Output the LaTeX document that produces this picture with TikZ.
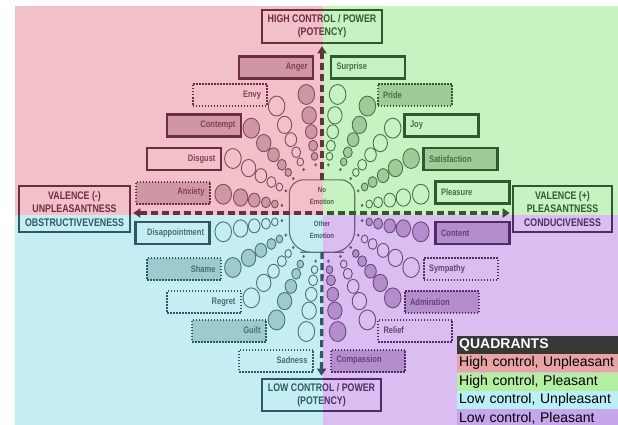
\documentclass[tikz,border=0pt]{standalone}
\usepackage{fontspec}
\setmainfont{Liberation Sans}
\newfontfamily\condfont{Liberation Sans}[FakeStretch=0.8]
\usetikzlibrary{positioning,arrows.meta}

\definecolor{bghu}{RGB}{242,192,200}
\definecolor{darkhu}{RGB}{110,44,64}
\definecolor{fillhu}{RGB}{207,150,163}
\definecolor{bghp}{RGB}{200,242,194}
\definecolor{darkhp}{RGB}{46,91,46}
\definecolor{fillhp}{RGB}{158,203,152}
\definecolor{bglu}{RGB}{196,238,243}
\definecolor{darklu}{RGB}{45,90,96}
\definecolor{filllu}{RGB}{157,202,207}
\definecolor{bglp}{RGB}{219,189,241}
\definecolor{darklp}{RGB}{79,44,100}
\definecolor{filllp}{RGB}{180,141,204}
\definecolor{leghu}{RGB}{233,163,163}
\definecolor{leghp}{RGB}{178,240,160}
\definecolor{leglu}{RGB}{183,240,246}
\definecolor{leglp}{RGB}{200,166,236}

\tikzset{>={Triangle[length=7pt,width=9pt]}}
\tikzset{
  lbox/.style={minimum width=74pt, minimum height=22pt, text width=63pt, inner sep=0pt,
               line width=2.2pt, font=\condfont\bfseries\fontsize{9.4}{11}\selectfont},
  quad/.style={draw=dark#1, text=dark#1!85!bg#1},
  full/.style={fill=fill#1},
  dotbox/.style={line width=2pt, dash pattern=on 1.5pt off 1.5pt},
  lside/.style={align=right},
  rside/.style={align=left},
  bigbox/.style={draw=qd, text=qd, line width=2.6pt, align=center, inner sep=0pt,
                 font=\condfont\bfseries\fontsize{11}{13.3}\selectfont},
  axisline/.style={draw=qd, line width=3.2pt, dash pattern=on 7pt off 4pt},
  midtext/.style={text=qd!90, align=center,
                  font=\condfont\bfseries\fontsize{7.6}{11.5}\selectfont},
  bubble/.style={line width=0.9pt},
  legrow/.style={minimum width=161pt, minimum height=18pt, text width=157pt, inner xsep=2pt,
                 inner ysep=0pt, align=left, font=\fontsize{14}{16}\selectfont},
}

\begin{document}
\begin{tikzpicture}[x=1pt,y=-1pt]
  \useasboundingbox (0,0) rectangle (618,425);
  \fill[white] (0,0) rectangle (618,425);
  \coordinate (origin) at (322,213);

  % quadrants, the two axes and the centre
  \foreach \q/\xa/\ya/\xb/\yb in {hu/15/6/323/215, hp/323/6/618/215,
                                  lu/15/215/323/425, lp/323/215/618/425}{
    \begin{scope}
      \fill[bg\q] (\xa,\ya) rectangle (\xb,\yb);
      \clip (\xa,\ya) rectangle (\xb,\yb);
      \colorlet{qd}{dark\q}
      \node[bigbox, minimum width=120pt, minimum height=33pt] (high) at (322,26.5) {HIGH CONTROL / POWER\\(POTENCY)};
      \node[bigbox, minimum width=119pt, minimum height=32pt] (low) at (321.5,395) {LOW CONTROL / POWER\\(POTENCY)};
      \node[bigbox, minimum width=111pt, minimum height=46pt] (neg) at (74.5,209) {VALENCE (-)\\UNPLEASANTNESS\\OBSTRUCTIVEVENESS};
      \node[bigbox, minimum width=99pt, minimum height=46pt] (pos) at (562.5,209) {VALENCE (+)\\PLEASANTNESS\\CONDUCIVENESS};
      \node[minimum width=65pt, minimum height=72pt] (emo) at (322,216) {};
      \draw[qd!80, line width=1.1pt, rounded corners=14pt] (emo.west) |- (emo.north) -| (emo.east);
      \draw[qd!80, line width=1.1pt, rounded corners=22pt] (emo.west) |- (emo.south) -| (emo.east);
      \node[midtext] (noemo) at (322,196) {No\\Emotion};
      \node[midtext] (otheremo) at (322,230) {Other\\Emotion};
      \draw[axisline,->,shorten >=2pt] (emo.north) -- (high.south);
      \draw[axisline,->,shorten >=2pt] (emo.south) -- (low.north);
      \draw[axisline,<->,shorten >=2pt,shorten <=2pt] (neg.east |- origin) -- (pos.west |- origin);
    \end{scope}
  }

  % high control, unpleasant
  \node[lbox, quad=hu, full=hu, lside]   (anger)    at (276,67.5)  {Anger};
  \node[lbox, quad=hu, dotbox, lside]    (envy)     at (229.5,95)  {Envy};
  \node[lbox, quad=hu, full=hu, lside]   (contempt) at (204,125.5) {Contempt};
  \node[lbox, quad=hu, lside]            (disgust)  at (184,159)   {Disgust};
  \node[lbox, quad=hu, full=hu, dotbox, lside] (anxiety) at (173,192.5) {Anxiety};

  % high control, pleasant
  \node[lbox, quad=hp, rside]            (surprise) at (368,67.5)   {Surprise};
  \node[lbox, quad=hp, full=hp, dotbox, rside] (pride) at (414.5,95) {Pride};
  \node[lbox, quad=hp, rside]            (joy)      at (441.5,125.5) {Joy};
  \node[lbox, quad=hp, full=hp, rside]   (satisf)   at (460.5,159)  {Satisfaction};
  \node[lbox, quad=hp, rside]            (pleasure) at (472.5,192.5) {Pleasure};

  % low control, unpleasant
  \node[lbox, quad=lu, lside]            (disapp)   at (172.5,233)  {Disappointment};
  \node[lbox, quad=lu, full=lu, dotbox, lside] (shame) at (184,269) {Shame};
  \node[lbox, quad=lu, dotbox, lside]    (regret)   at (204,302)    {Regret};
  \node[lbox, quad=lu, full=lu, dotbox, lside] (guilt) at (229,330.5) {Guilt};
  \node[lbox, quad=lu, dotbox, lside]    (sadness)  at (276,360.5)  {Sadness};

  % low control, pleasant
  \node[lbox, quad=lp, full=lp, rside]   (content)  at (472.5,233)  {Content};
  \node[lbox, quad=lp, dotbox, rside]    (sympathy) at (460.5,269)  {Sympathy};
  \node[lbox, quad=lp, full=lp, dotbox, rside] (admir) at (441.5,302) {Admiration};
  \node[lbox, quad=lp, dotbox, rside]    (relief)   at (415,330.5)  {Relief};
  \node[lbox, quad=lp, full=lp, dotbox, rside] (compass) at (368,360.5) {Compassion};

  % intensity bubbles
  \begin{scope}[shift={(origin)}, yscale=-1.2]
    \foreach \a/\q/\f in {99/hu/fillhu, 117/hu/none, 135/hu/fillhu, 153/hu/none, 171/hu/fillhu,
                          81/hp/none, 63/hp/fillhp, 45/hp/none, 27/hp/fillhp, 9/hp/none,
                          189/lu/none, 207/lu/filllu, 225/lu/none, 243/lu/filllu, 261/lu/none,
                          351/lp/filllp, 333/lp/none, 315/lp/filllp, 297/lp/none, 279/lp/filllp}{
      \fill[dark\q!85] (\a:40.6) circle (1.4);
      \foreach \r/\s in {47.8/3.3, 56.8/4.5, 68.6/5.8, 82.4/7.2, 100/8.3}
        \draw[bubble, draw=dark\q!85, fill=\f] (\a:\r) circle (\s);
    }
  \end{scope}

  % legend
  \node[legrow, fill=black!78, text=white, font=\bfseries\fontsize{14}{16}\selectfont,
        anchor=north west] (quadrants) at (457,335.5) {QUADRANTS};
  \node[legrow, fill=leghu, below=0pt of quadrants] (lhu) {High control, Unpleasant};
  \node[legrow, fill=leghp, below=0pt of lhu] (lhp) {High control, Pleasant};
  \node[legrow, fill=leglu, below=0pt of lhp] (llu) {Low control, Unpleasant};
  \node[legrow, fill=leglp, below=0pt of llu] (llp) {Low control, Pleasant};
\end{tikzpicture}
\end{document}
